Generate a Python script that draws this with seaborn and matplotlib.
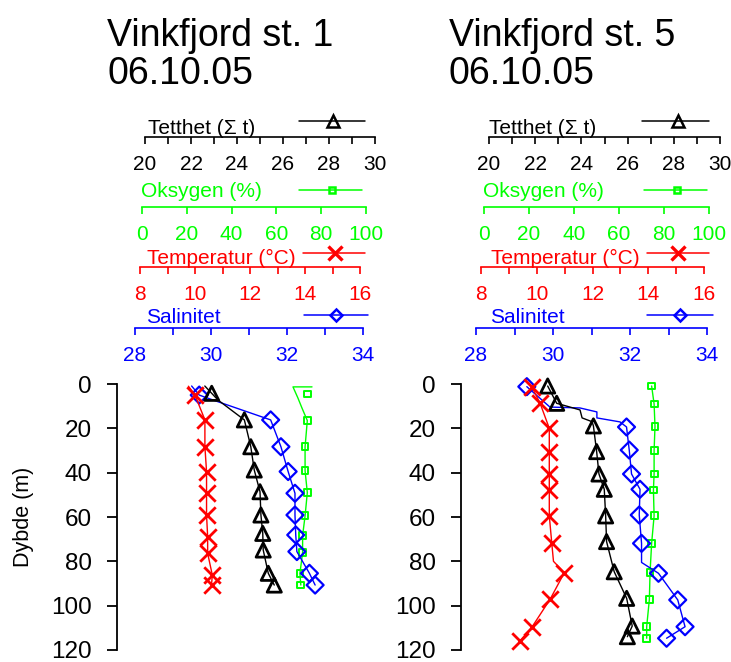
import matplotlib
matplotlib.use("Agg")
import numpy as np
import matplotlib.pyplot as plt
from matplotlib.lines import Line2D
import seaborn as sns

# ---------------- Station 1 ----------------
st1_temp_depth = [5.0, 16.2, 28.3, 39.5, 49.3, 59.1, 68.9, 76.4, 86.2, 90.7]
st1_temp = [10.0, 10.36, 10.36, 10.42, 10.42, 10.42, 10.46, 10.46, 10.63, 10.60]
st1_temp_line_depth = [1.0] + st1_temp_depth
st1_temp_line = [9.76] + st1_temp

st1_dens_depth = [4.2, 16.2, 28.3, 38.8, 48.6, 59.1, 67.4, 74.9, 85.4, 90.7]
st1_dens = [22.90, 24.32, 24.60, 24.75, 25.00, 25.04, 25.12, 25.14, 25.36, 25.62]
st1_dens_line_depth = [0.9, 4.2, 7.2] + st1_dens_depth[1:]
st1_dens_line = [22.60, 22.90, 23.17] + st1_dens[1:]

st1_sal_depth = [5.0, 16.2, 28.3, 39.5, 49.3, 59.1, 68.1, 75.6, 85.4, 90.7]
st1_sal = [29.69, 31.57, 31.84, 32.03, 32.21, 32.21, 32.23, 32.26, 32.59, 32.74]
st1_sal_line_depth = [0.9, 5.0, 7.2] + st1_sal_depth[1:]
st1_sal_line = [29.49, 29.69, 30.05] + st1_sal[1:]

st1_oxy_depth = [4.5, 16.5, 28.3, 39.1, 49.0, 59.5, 68.4, 76.1, 85.4, 90.7]
st1_oxy = [73.8, 73.8, 72.8, 72.8, 73.8, 72.8, 71.7, 71.7, 70.5, 70.9]
st1_oxy_line_depth = [1.3, 1.3, 6.3, 10.8] + st1_oxy_depth[1:]
st1_oxy_line = [75.9, 67.4, 69.6, 71.4] + st1_oxy[1:]

# ---------------- Station 5 ----------------
st5_temp_depth = [1.2, 8.7, 20.0, 30.5, 40.6, 47.8, 59.5, 71.9, 85.1, 97.1, 109.8, 115.8]
st5_temp = [9.82, 10.12, 10.45, 10.45, 10.45, 10.45, 10.45, 10.54, 10.99, 10.48, 9.82, 9.40]
st5_temp_line_depth = st5_temp_depth[:8] + [80.0] + st5_temp_depth[8:]
st5_temp_line = st5_temp[:8] + [10.60] + st5_temp[8:]

st5_dens_depth = [0.9, 8.7, 18.9, 30.5, 40.6, 47.5, 59.5, 71.1, 84.7, 96.7, 109.2, 114.0]
st5_dens = [22.54, 22.93, 24.52, 24.66, 24.76, 24.99, 25.05, 25.09, 25.42, 25.96, 26.20, 25.99]
st5_dens_line_depth = st5_dens_depth[:2] + [11.7, 15.3, 17.0] + st5_dens_depth[2:]
st5_dens_line = st5_dens[:2] + [23.94, 24.03, 24.46] + st5_dens[2:]

st5_sal_depth = [1.2, 19.4, 29.8, 40.6, 47.5, 59.1, 71.9, 85.4, 97.4, 109.5, 114.7]
st5_sal = [29.32, 31.91, 31.98, 32.04, 32.26, 32.24, 32.30, 32.74, 33.24, 33.43, 32.95]
st5_sal_line_depth = [1.2, 10.4, 10.8, 12.6, 15.3, 17.1] + st5_sal_depth[1:7] + [80.5] + st5_sal_depth[7:]
st5_sal_line = [29.32, 29.92, 30.70, 31.14, 31.14, 31.74] + st5_sal[1:7] + [32.30] + st5_sal[7:]

st5_oxy_depth = [0.9, 9.0, 19.2, 30.0, 40.6, 47.8, 59.5, 71.9, 85.1, 97.1, 109.5, 114.7]
st5_oxy = [74.5, 75.6, 76.0, 75.6, 75.6, 75.3, 75.6, 74.5, 73.8, 73.5, 72.3, 72.3]
st5_oxy_line_depth = st5_oxy_depth
st5_oxy_line = st5_oxy

stations = ["Vinkfjord st. 1", "Vinkfjord st. 5"]
dates = ["06.10.05", "06.10.05"]
depth_ticks = [0, 20, 40, 60, 80, 100, 120]

# ---------------- styling ----------------
sns.set_style("white")
plt.rcParams["font.family"] = ["Liberation Sans", "DejaVu Sans"]
plt.rcParams["text.color"] = "black"
plt.rcParams["axes.labelcolor"] = "black"
plt.rcParams["xtick.color"] = "black"
plt.rcParams["ytick.color"] = "black"

W, H = 731, 662
fig = plt.figure(figsize=(W / 100, H / 100), dpi=100)


def fx(px):
    return px / W


def fy(py):
    return 1 - py / H


PLOT_TOP, PLOT_BOT = 384, 650
GREEN = "#00ff00"

# variable styles: colour, marker, scatter size, marker edge width, legend marker size,
# axis limits, labelled step, minor step, axis row (px), title
VARS = {
    "dens": dict(color="black", marker="^", s=105, mew=2.0, lms=8.5, lim=(20, 30), major=2, minor=1,
                 axis_y=137, title="Tetthet (\u03a3 t)"),
    "oxy": dict(color=GREEN, marker="s", s=24, mew=1.4, lms=5, lim=(0, 100), major=20, minor=20,
                axis_y=207, title="Oksygen (%)"),
    "temp": dict(color="red", marker="x", s=140, mew=2.0, lms=9.5, lim=(8, 16), major=2, minor=1,
                 axis_y=267, title="Temperatur (\u00b0C)"),
    "sal": dict(color="blue", marker="D", s=75, mew=1.6, lms=6, lim=(28, 34), major=2, minor=1,
                axis_y=328, title="Salinitet"),
}

panels = [
    dict(
        spine_x=117, title_x=107,
        extent={"dens": (145, 375), "oxy": (142, 366), "temp": (140, 360), "sal": (135, 363)},
        label_x={"dens": 148, "oxy": 141, "temp": 147, "sal": 146},
        label_base={"dens": 134, "oxy": 197, "temp": 264, "sal": 323},
        legend={"dens": (299, 365, 333, 121), "oxy": (299, 362, 332, 190),
                "temp": (303, 365, 335, 253), "sal": (304, 368, 336, 315)},
        data={"temp": (st1_temp_line_depth, st1_temp_line, st1_temp_depth, st1_temp),
              "dens": (st1_dens_line_depth, st1_dens_line, st1_dens_depth, st1_dens),
              "sal": (st1_sal_line_depth, st1_sal_line, st1_sal_depth, st1_sal),
              "oxy": (st1_oxy_line_depth, st1_oxy_line, st1_oxy_depth, st1_oxy)},
    ),
    dict(
        spine_x=461, title_x=449,
        extent={"dens": (489, 720), "oxy": (484, 709), "temp": (481, 704), "sal": (476, 707)},
        label_x={"dens": 489, "oxy": 483, "temp": 491, "sal": 490},
        label_base={"dens": 134, "oxy": 197, "temp": 264, "sal": 323},
        legend={"dens": (642, 709, 678, 121), "oxy": (644, 707, 677, 190),
                "temp": (647, 709, 678, 253), "sal": (647, 713, 680, 315)},
        data={"temp": (st5_temp_line_depth, st5_temp_line, st5_temp_depth, st5_temp),
              "dens": (st5_dens_line_depth, st5_dens_line, st5_dens_depth, st5_dens),
              "sal": (st5_sal_line_depth, st5_sal_line, st5_sal_depth, st5_sal),
              "oxy": (st5_oxy_line_depth, st5_oxy_line, st5_oxy_depth, st5_oxy)},
    ),
]

draw_order = ["oxy", "sal", "dens", "temp"]

for i, p in enumerate(panels):
    # station title
    fig.text(fx(p["title_x"]), fy(46), stations[i], fontsize=27, va="baseline", ha="left",
             color="black")
    fig.text(fx(p["title_x"]), fy(84), dates[i], fontsize=27, va="baseline", ha="left",
             color="black")

    # depth axis
    ax = fig.add_axes([fx(p["spine_x"]), fy(PLOT_BOT), fx(p["spine_x"] + 270) - fx(p["spine_x"]),
                       (PLOT_BOT - PLOT_TOP) / H])
    ax.set_ylim(120, 0)
    ax.set_xticks([])
    ax.set_yticks(depth_ticks)
    ax.patch.set_alpha(0)
    for s in ["top", "right", "bottom"]:
        ax.spines[s].set_visible(False)
    ax.spines["left"].set_color("black")
    ax.spines["left"].set_linewidth(1.3)
    ax.tick_params(axis="y", direction="out", length=7, width=1.3, labelsize=17.5, pad=11,
                   left=True, color="black", labelcolor="black")
    if i == 0:
        fig.text(fx(24), fy(517), "Dybde (m)", rotation=90, ha="center", va="center",
                 fontsize=15.5, color="black")

    for key in ["dens", "oxy", "temp", "sal"]:
        v = VARS[key]
        p0, p1 = p["extent"][key]
        lo, hi = v["lim"]
        c = v["color"]

        # scale bar for this variable
        sa = fig.add_axes([fx(p0), fy(v["axis_y"]), fx(p1) - fx(p0), 0.0001])
        sa.set_xlim(lo, hi)
        sa.set_ylim(0, 1)
        sa.patch.set_alpha(0)
        for s in ["top", "left", "right"]:
            sa.spines[s].set_visible(False)
        sa.spines["bottom"].set_color(c)
        sa.spines["bottom"].set_linewidth(1.2)
        sa.set_yticks([])
        sa.set_xticks(np.arange(lo, hi + 1e-9, v["major"]))
        sa.set_xticks(np.arange(lo, hi + 1e-9, v["minor"]), minor=True)
        sa.tick_params(axis="x", which="both", direction="out", length=5, width=1.2, color=c,
                       labelcolor=c, labelsize=15, pad=8, bottom=True)

        fig.text(fx(p["label_x"][key]), fy(p["label_base"][key]), v["title"], color=c,
                 fontsize=15, va="baseline", ha="left")

        x0, x1, xm, yy = p["legend"][key]
        fig.add_artist(Line2D([fx(x0), fx(x1)], [fy(yy), fy(yy)], transform=fig.transFigure,
                              color=c, lw=1.1))
        if v["marker"] == "x":
            fig.add_artist(Line2D([fx(xm)], [fy(yy)], transform=fig.transFigure, ls="none",
                                  marker="x", ms=v["lms"], mew=2.4, color=c))
        else:
            fig.add_artist(Line2D([fx(xm)], [fy(yy)], transform=fig.transFigure, ls="none",
                                  marker=v["marker"], ms=v["lms"], mew=1.8, mfc="none", mec=c))

    # profiles, one overlay axis per variable sharing the scale bar's extent
    for key in draw_order:
        v = VARS[key]
        p0, p1 = p["extent"][key]
        lo, hi = v["lim"]
        c = v["color"]
        ld, lv, md, mv = p["data"][key]
        da = fig.add_axes([fx(p0), fy(PLOT_BOT), fx(p1) - fx(p0), (PLOT_BOT - PLOT_TOP) / H])
        sns.lineplot(x=lv, y=ld, sort=False, estimator=None, color=c, lw=1.0, ax=da)
        if v["marker"] == "x":
            sns.scatterplot(x=mv, y=md, marker="x", s=v["s"], color=c, linewidth=v["mew"], ax=da,
                            zorder=3, clip_on=False)
        else:
            sns.scatterplot(x=mv, y=md, marker=v["marker"], s=v["s"], color=c, facecolor="none",
                            edgecolor=c, linewidth=v["mew"], ax=da, zorder=3, clip_on=False)
        da.set_xlim(lo, hi)
        da.set_ylim(120, 0)
        da.axis("off")

fig.savefig("out.png", dpi=100)
